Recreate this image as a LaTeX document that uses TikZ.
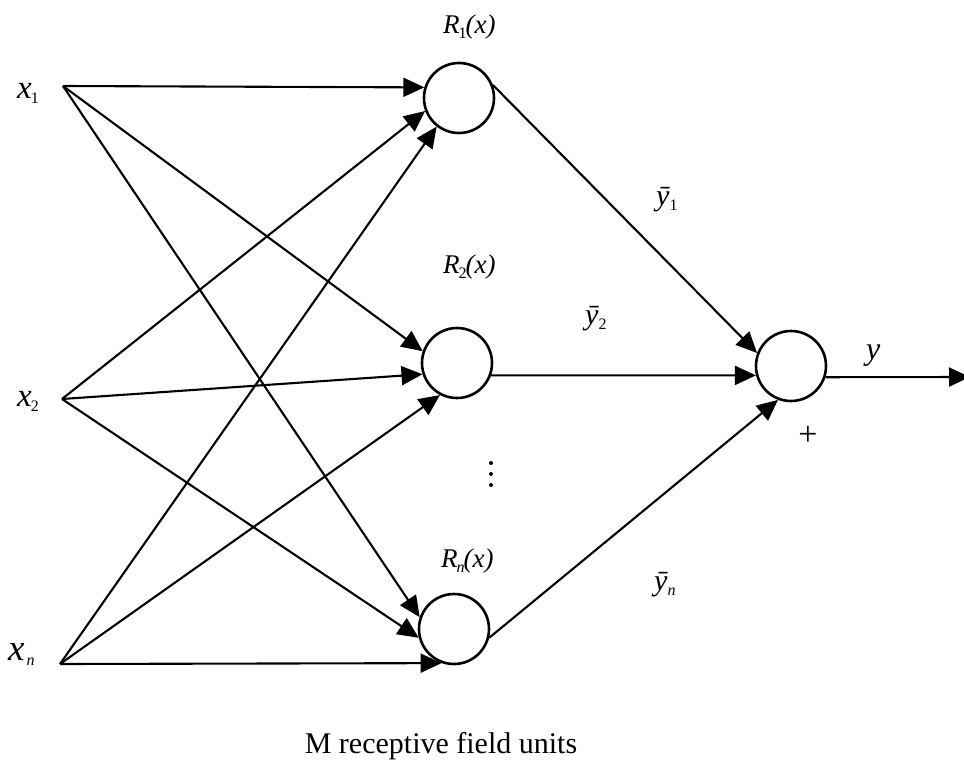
\documentclass[tikz,border=0pt]{standalone}
\usepackage{fontspec}
\setmainfont{Liberation Serif}
\usetikzlibrary{arrows.meta}
\newcommand\mysub[1]{\raisebox{-5pt}{\fontsize{16}{16}\selectfont\upshape #1}}
\begin{document}
\begin{tikzpicture}[x=1pt,y=-1pt,
  unit/.style={circle,draw,line width=2.6pt,minimum size=70pt,inner sep=0pt},
  conn/.style={line width=2.1pt,-{Triangle[length=21pt,width=19pt]}},
  lab/.style={font=\fontsize{30}{32}\selectfont\itshape,inner sep=0pt,anchor=base west},
  capt/.style={font=\fontsize{30}{34}\selectfont,inner sep=0pt,anchor=base}]
\useasboundingbox (0,0) rectangle (964,763);
\fill[white] (0,0) rectangle (964,763);
% units
\node[unit] (R1) at (459,98) {};
\node[unit] (R2) at (457,363) {};
\node[unit] (Rn) at (454,629) {};
\node[unit] (S) at (791,366) {};
\coordinate (x1) at (63,86);
\coordinate (x2) at (62,399);
\coordinate (xn) at (60,664);
\coordinate (out) at (970,377);
% labels
\node[lab,font=\fontsize{33}{34}\selectfont\itshape] (lx1) at (17,98) {x\kern-1pt\mysub{1}};
\node[lab,font=\fontsize{33}{34}\selectfont\itshape] (lx2) at (17,406) {x\kern-1pt\mysub{2}};
\node[lab,font=\fontsize{37}{38}\selectfont\itshape] (lxn) at (8,660) {x\kern2pt\mysub{\itshape n}};
\node[lab,font=\fontsize{27}{30}\selectfont\itshape] (lR1) at (443,33) {R\kern-1pt\mysub{1}\kern-1pt(x)};
\node[lab,font=\fontsize{27}{30}\selectfont\itshape] (lR2) at (443,273) {R\kern-1pt\mysub{2}\kern-1pt(x)};
\node[lab,font=\fontsize{27}{30}\selectfont\itshape] (lRn) at (441,567) {R\kern-1pt\mysub{\itshape n}\kern-1pt(x)};
\node[lab] (ly1) at (656,205) {ȳ\mysub{1}};
\node[lab] (ly2) at (585,324) {ȳ\mysub{2}};
\node[lab] (lyn) at (654,590) {ȳ\mysub{\itshape n}};
\node[lab,font=\fontsize{32}{34}\selectfont\itshape] (ly) at (866,359) {y};
\node[font=\fontsize{34}{36}\selectfont,inner sep=0pt] (plus) at (808,436) {+};
\node[capt] (cap) at (441,753) {M receptive field units};
% dots
\fill (491,463) circle (2);
\fill (491,474) circle (2);
\fill (491,485) circle (2);
% connections
\draw[conn] (x1) -- (R1.163);
\draw[conn] (x1) -- (R2.161);
\draw[conn] (x1) -- (Rn.161);
\draw[conn] (x2) -- (R1.201);
\draw[conn] (x2) -- (R2.198);
\draw[conn] (x2) -- (Rn.194);
\draw[conn] (xn) -- (R1.232);
\draw[conn] (xn) -- (R2.242);
\draw[conn] (xn) -- (Rn.250);
\draw[conn] (R1.21) -- (S.159);
\draw[conn] (R2.-20) -- (S.195);
\draw[conn] (Rn.-14) -- (S.249);
\draw[conn] (S.-18) -- (out);
\end{tikzpicture}
\end{document}
